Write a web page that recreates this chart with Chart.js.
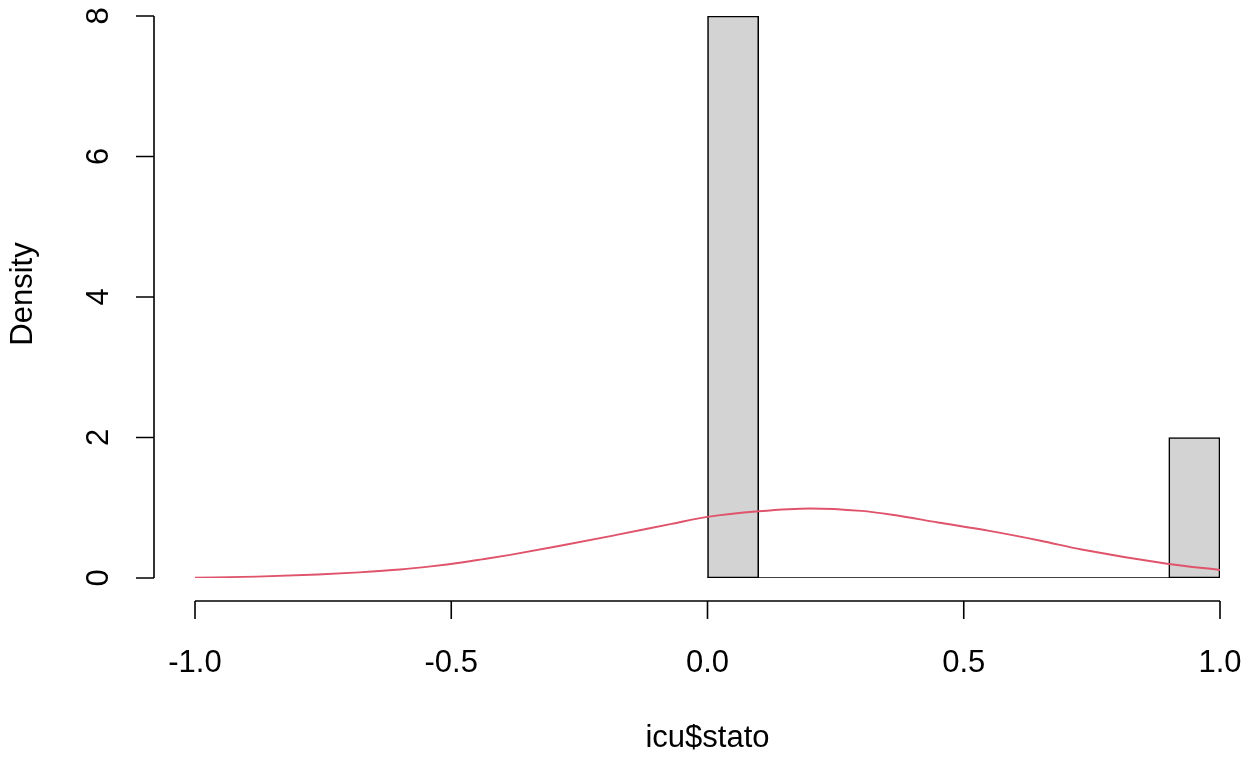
<!DOCTYPE html>
<html>
<head>
<meta charset="utf-8">
<script src="https://cdn.jsdelivr.net/npm/chart.js@4"></script>
<style>
  html, body { margin: 0; padding: 0; background: #ffffff; }
  #wrap { width: 1251px; height: 760px; }
</style>
</head>
<body>
<div id="wrap"><canvas id="c" width="1251" height="760"></canvas></div>
<script>
// ---- data ----
const binMids   = [0.05, 0.15, 0.25, 0.35, 0.45, 0.55, 0.65, 0.75, 0.85, 0.95];
const binDensity = [8, 0, 0, 0, 0, 0, 0, 0, 0, 2];
const binRange = [0.0, 1.0];
const densX = [-1.0, -0.88, -0.76, -0.68, -0.6, -0.54, -0.48, -0.44, -0.385, -0.29, -0.18, -0.07, 0.0, 0.1, 0.2, 0.3, 0.36, 0.45, 0.55, 0.65, 0.73, 0.9, 1.0];
const densY = [0.005, 0.02, 0.05, 0.08, 0.12, 0.165, 0.22, 0.265, 0.33, 0.455, 0.61, 0.77, 0.87, 0.95, 0.99, 0.955, 0.90, 0.79, 0.67, 0.53, 0.405, 0.20, 0.114];
const xTicks = [-1.0, -0.5, 0.0, 0.5, 1.0];
const xTickLabels = ['-1.0', '-0.5', '0.0', '0.5', '1.0'];
const yTicks = [0, 2, 4, 6, 8];
const yTickLabels = ['0', '2', '4', '6', '8'];
const xTitle = 'icu$stato';
const yTitle = 'Density';

const FONT = '31px "Liberation Sans", Arial, sans-serif';

const rAxes = {
  id: 'rAxes',
  afterDraw(chart) {
    const ctx = chart.ctx;
    const xs = chart.scales.x, ys = chart.scales.y;
    const ca = chart.chartArea;
    ctx.save();
    ctx.strokeStyle = '#000';
    ctx.fillStyle = '#000';
    ctx.lineWidth = 1.6;
    ctx.font = FONT;
    // y axis
    const ax = ca.left - 41;
    ctx.beginPath();
    ctx.moveTo(ax, ys.getPixelForValue(yTicks[0]));
    ctx.lineTo(ax, ys.getPixelForValue(yTicks[yTicks.length - 1]));
    yTicks.forEach(v => {
      const py = ys.getPixelForValue(v);
      ctx.moveTo(ax, py);
      ctx.lineTo(ax - 18, py);
    });
    ctx.stroke();
    yTicks.forEach((v, i) => {
      const py = ys.getPixelForValue(v);
      ctx.save();
      ctx.translate(ax - 46, py);
      ctx.rotate(-Math.PI / 2);
      ctx.textAlign = 'center';
      ctx.textBaseline = 'alphabetic';
      ctx.fillText(yTickLabels[i], 0, 0);
      ctx.restore();
    });
    // x axis
    const ay = ca.bottom + 23;
    ctx.beginPath();
    ctx.moveTo(xs.getPixelForValue(xTicks[0]), ay);
    ctx.lineTo(xs.getPixelForValue(xTicks[xTicks.length - 1]), ay);
    xTicks.forEach(v => {
      const px = xs.getPixelForValue(v);
      ctx.moveTo(px, ay);
      ctx.lineTo(px, ay + 18);
    });
    ctx.stroke();
    ctx.textAlign = 'center';
    ctx.textBaseline = 'alphabetic';
    xTicks.forEach((v, i) => {
      ctx.fillText(xTickLabels[i], xs.getPixelForValue(v), ay + 71);
    });
    // titles
    ctx.fillText(xTitle, (ca.left + ca.right) / 2, ay + 146);
    ctx.save();
    ctx.translate(32, (ca.top + ca.bottom) / 2 - 3);
    ctx.rotate(-Math.PI / 2);
    ctx.fillText(yTitle, 0, 0);
    ctx.restore();
    ctx.restore();
  }
};

new Chart(document.getElementById('c'), {
  type: 'line',
  data: {
    datasets: [
      {
        type: 'line',
        label: 'density',
        data: densX.map((x, i) => ({ x: x, y: densY[i] })),
        borderColor: '#DF536B',
        borderWidth: 1.9,
        pointRadius: 0,
        cubicInterpolationMode: 'monotone',
        fill: false,
        order: 0
      },
      {
        type: 'line',
        label: 'baseline',
        data: binRange.map(x => ({ x: x, y: 0 })),
        borderColor: '#000000',
        borderWidth: 1.6,
        pointRadius: 0,
        fill: false,
        order: 1
      },
      {
        type: 'bar',
        label: 'hist',
        data: binMids.map((x, i) => ({ x: x, y: binDensity[i] })),
        backgroundColor: '#D3D3D3',
        borderColor: '#000000',
        borderWidth: 1.6,
        borderSkipped: false,
        barPercentage: 1.0,
        categoryPercentage: 1.0,
        order: 2
      }
    ]
  },
  options: {
    responsive: false,
    animation: false,
    events: [],
    layout: { padding: { left: 195, right: 31, top: 16, bottom: 182 } },
    plugins: { legend: { display: false }, tooltip: { enabled: false } },
    scales: {
      x: { type: 'linear', min: -1, max: 1, offset: false, display: false },
      y: { type: 'linear', min: 0, max: 8, display: false }
    }
  },
  plugins: [rAxes]
});
</script>
</body>
</html>
